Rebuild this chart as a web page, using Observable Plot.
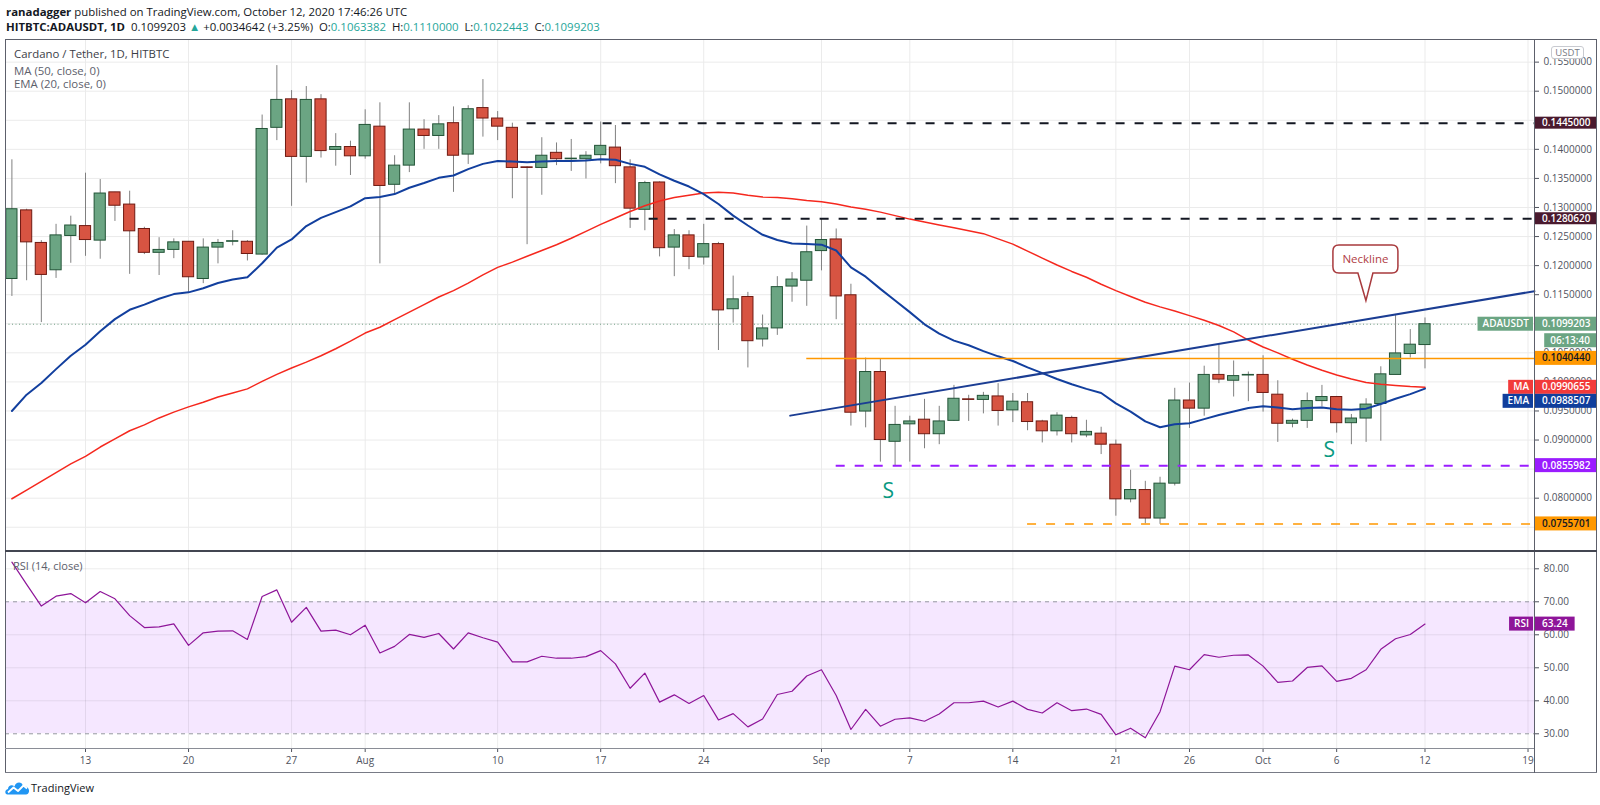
<!DOCTYPE html>
<html>
<head>
<meta charset="utf-8">
<script src="https://cdn.jsdelivr.net/npm/d3@7"></script>
<script src="https://cdn.jsdelivr.net/npm/@observablehq/plot@0.6"></script>
<style>
  html,body{margin:0;padding:0;background:#fff;}
  #wrap{position:relative;width:1600px;height:805px;overflow:hidden;font-family:"Open Sans",sans-serif;color:#131722;}
  .a{position:absolute;}
  .ln{position:absolute;background:#5d606b;}
  .hdr{position:absolute;left:6px;font-size:11.4px;white-space:nowrap;line-height:15px;color:#131722;}
  .tl{color:#26a69a;}
  .sp{margin-left:3px;}
  .lg{position:absolute;left:14px;font-size:11.4px;line-height:14px;white-space:nowrap;color:#5d606b;}
</style>
</head>
<body>
<div id="wrap">
  <div class="hdr" style="top:4px"><b>ranadagger</b> published on TradingView.com, October 12, 2020 17:46:26 UTC</div>
  <div class="hdr" style="top:18.5px"><b>HITBTC:ADAUSDT, 1D</b>&nbsp; 0.1099203 <span class="tl">▲</span> +0.0034642 (+3.25%)<span class="sp"></span> O:<span class="tl">0.1063382</span><span class="sp"></span> H:<span class="tl">0.1110000</span><span class="sp"></span> L:<span class="tl">0.1022443</span><span class="sp"></span> C:<span class="tl">0.1099203</span></div>
  <div id="main" class="a" style="left:0;top:39px;width:1600px;height:512px"></div>
  <div id="rsi" class="a" style="left:0;top:551px;width:1600px;height:222px"></div>
  <div class="lg" style="top:47px;color:#3b3e47">Cardano / Tether, 1D, HITBTC</div>
  <div class="lg" style="top:64px">MA (50, close, 0)</div>
  <div class="lg" style="top:77px">EMA (20, close, 0)</div>
  <div class="lg" style="top:559px;left:13px;font-size:11px">RSI (14, close)</div>
  <div class="ln" style="left:5px;top:39px;width:1592px;height:1px"></div>
  <div class="ln" style="left:5px;top:39px;width:1px;height:734px"></div>
  <div class="ln" style="left:1596px;top:39px;width:1px;height:734px"></div>
  <div class="ln" style="left:5px;top:772px;width:1592px;height:1px;background:#787b86"></div>
  <div class="ln" style="left:1534px;top:39px;width:1px;height:734px"></div>
  <div class="ln" style="left:5px;top:550px;width:1592px;height:2px;background:#434651"></div>
  <div class="ln" style="left:5px;top:748px;width:1529px;height:1px;background:#8a8d96"></div>
  <svg class="a" style="left:5px;top:780px" width="25" height="15" viewBox="0 0 25 15">
    <path d="M2.5 14.5 C-0.5 14.5 -0.5 9.5 3 9 C3 5.5 7 4 9.5 6.5 C10.5 1.5 17 1 18 6 C21.5 5.5 24.5 8.5 24 11.5 C23.7 13.5 22.5 14.5 21 14.5 Z" fill="#2196f3"/>
    <polyline points="3,12.5 8.5,7.5 13,11 18.5,5.5 22,8.5" stroke="#fff" stroke-width="1.8" fill="none" stroke-linejoin="round"/>
  </svg>
  <div class="a" style="left:31px;top:780px;font-size:11px;line-height:16px;color:#131722">TradingView</div>
</div>
<script>
// ---------------- data ----------------
const dates = [
"2020-07-08","2020-07-09","2020-07-10","2020-07-11","2020-07-12","2020-07-13","2020-07-14","2020-07-15","2020-07-16","2020-07-17","2020-07-18","2020-07-19","2020-07-20","2020-07-21","2020-07-22","2020-07-23","2020-07-24","2020-07-25","2020-07-26","2020-07-27","2020-07-28","2020-07-29","2020-07-30","2020-07-31",
"2020-08-01","2020-08-02","2020-08-03","2020-08-04","2020-08-05","2020-08-06","2020-08-07","2020-08-08","2020-08-09","2020-08-10","2020-08-11","2020-08-12","2020-08-13","2020-08-14","2020-08-15","2020-08-16","2020-08-17","2020-08-18","2020-08-19","2020-08-20","2020-08-21","2020-08-22","2020-08-23","2020-08-24","2020-08-25","2020-08-26","2020-08-27","2020-08-28","2020-08-29","2020-08-30","2020-08-31",
"2020-09-01","2020-09-02","2020-09-03","2020-09-04","2020-09-05","2020-09-06","2020-09-07","2020-09-08","2020-09-09","2020-09-10","2020-09-11","2020-09-12","2020-09-13","2020-09-14","2020-09-15","2020-09-16","2020-09-17","2020-09-18","2020-09-19","2020-09-20","2020-09-21","2020-09-22","2020-09-23","2020-09-24","2020-09-25","2020-09-26","2020-09-27","2020-09-28","2020-09-29","2020-09-30",
"2020-10-01","2020-10-02","2020-10-03","2020-10-04","2020-10-05","2020-10-06","2020-10-07","2020-10-08","2020-10-09","2020-10-10","2020-10-11","2020-10-12"];
const open = [
0.1177,0.1295,0.1239,0.1192,0.1251,0.1268,0.1243,0.1326,0.1305,0.1263,0.1222,0.1227,0.1241,0.1177,0.1231,0.1241,0.1241,0.1219,0.1437,0.1486,0.1387,0.1486,0.1399,0.1404,
0.1388,0.1439,0.1339,0.1372,0.1434,0.1423,0.1445,0.1391,0.1471,0.1453,0.1437,0.1369,0.1368,0.1394,0.1383,0.1383,0.1390,0.1403,0.1369,0.1296,0.1343,0.1231,0.1252,0.1214,0.1237,0.1125,0.1146,0.1073,0.1092,0.1164,0.1174,
0.1225,0.1245,0.1149,0.0949,0.1017,0.0897,0.0927,0.0935,0.0910,0.0933,0.0970,0.0969,0.0975,0.0951,0.0965,0.0932,0.0915,0.0938,0.0908,0.0911,0.0892,0.0798,0.0814,0.0765,0.0825,0.0968,0.0954,0.1012,0.1002,0.1011,
0.1012,0.0978,0.0928,0.0933,0.0967,0.0974,0.0929,0.0937,0.0962,0.1012,0.1048,0.1063382];
const high = [
0.1382,0.1297,0.1243,0.1271,0.1285,0.1359,0.1348,0.1326,0.1328,0.1266,0.1248,0.1246,0.1241,0.1246,0.1245,0.1260,0.1243,0.1459,0.1544,0.1501,0.1508,0.1494,0.1427,0.1414,
0.1468,0.1480,0.1389,0.1480,0.1451,0.1458,0.1473,0.1475,0.1520,0.1465,0.1445,0.1370,0.1420,0.1411,0.1417,0.1396,0.1447,0.1441,0.1382,0.1345,0.1344,0.1262,0.1260,0.1271,0.1240,0.1182,0.1154,0.1115,0.1181,0.1188,0.1268,
0.1281,0.1263,0.1168,0.1041,0.1040,0.0958,0.0941,0.0970,0.0958,0.0994,0.0977,0.0982,0.0997,0.0980,0.0980,0.0934,0.0947,0.0941,0.0934,0.0922,0.0900,0.0848,0.0829,0.0836,0.0989,0.0998,0.1027,0.1064,0.1036,0.1017,
0.1045,0.1002,0.0936,0.0981,0.0994,0.0975,0.0944,0.0971,0.1026,0.1114,0.1090,0.1110000];
const low = [
0.1147,0.1174,0.1102,0.1178,0.1204,0.1216,0.1211,0.1276,0.1185,0.1219,0.1183,0.1212,0.1153,0.1169,0.1203,0.1234,0.1208,0.1218,0.1415,0.1302,0.1342,0.1385,0.1371,0.1355,
0.1383,0.1203,0.1324,0.1360,0.1400,0.1400,0.1326,0.1374,0.1421,0.1415,0.1315,0.1236,0.1321,0.1372,0.1362,0.1349,0.1375,0.1341,0.1264,0.1260,0.1215,0.1181,0.1193,0.1201,0.1054,0.1101,0.1024,0.1060,0.1080,0.1137,0.1130,
0.1191,0.1107,0.0924,0.0921,0.0862,0.0856,0.0862,0.0885,0.0892,0.0932,0.0932,0.0945,0.0924,0.0930,0.0916,0.0895,0.0907,0.0895,0.0904,0.0875,0.0769,0.0792,0.0756,0.0755,0.0821,0.0920,0.0941,0.0997,0.0974,0.0966,
0.0948,0.0896,0.0921,0.0920,0.0957,0.0912,0.0892,0.0896,0.0898,0.1012,0.1041,0.1022443];
const close = [
0.1297,0.1240,0.1184,0.1252,0.1269,0.1244,0.1324,0.1303,0.1259,0.1222,0.1227,0.1240,0.1180,0.1231,0.1239,0.1242,0.1220,0.1435,0.1485,0.1387,0.1485,0.1397,0.1404,0.1388,
0.1442,0.1337,0.1372,0.1434,0.1423,0.1443,0.1389,0.1469,0.1453,0.1439,0.1368,0.1368,0.1389,0.1383,0.1384,0.1389,0.1406,0.1371,0.1298,0.1342,0.1230,0.1252,0.1215,0.1237,0.1123,0.1142,0.1070,0.1092,0.1163,0.1176,0.1223,
0.1244,0.1147,0.0947,0.1017,0.0900,0.0926,0.0932,0.0910,0.0932,0.0971,0.0969,0.0976,0.0950,0.0966,0.0931,0.0915,0.0942,0.0910,0.0914,0.0892,0.0798,0.0814,0.0765,0.0825,0.0968,0.0954,0.1012,0.1004,0.1010,0.1012,
0.0981,0.0928,0.0933,0.0967,0.0974,0.0929,0.0937,0.0961,0.1013,0.1049,0.1064,0.1099203];
const ma50 = [
0.0799,0.0814,0.0829,0.0844,0.0859,0.0872,0.0888,0.0902,0.0916,0.0926,0.0938,0.0948,0.0957,0.0965,0.0974,0.0981,0.0988,0.1001,0.1013,0.1024,0.1034,0.1045,0.1057,0.1070,
0.1084,0.1094,0.1107,0.1120,0.1133,0.1146,0.1157,0.1170,0.1184,0.1197,0.1206,0.1216,0.1226,0.1236,0.1247,0.1259,0.1271,0.1282,0.1293,0.1303,0.1311,0.1317,0.1321,0.1325,0.1326,0.1325,0.1321,0.1318,0.1317,0.1315,0.1312,
0.1310,0.1306,0.1301,0.1297,0.1292,0.1286,0.1280,0.1275,0.1270,0.1265,0.1260,0.1255,0.1246,0.1237,0.1225,0.1213,0.1201,0.1190,0.1180,0.1168,0.1157,0.1147,0.1137,0.1129,0.1122,0.1114,0.1106,0.1097,0.1086,0.1072,
0.1060,0.1050,0.1039,0.1029,0.1020,0.1012,0.1005,0.0999,0.0996,0.0994,0.0992,0.0990655];
const ema20 = [
0.0950,0.0978,0.0998,0.1022,0.1045,0.1064,0.1087,0.1108,0.1124,0.1133,0.1143,0.1151,0.1154,0.1161,0.1170,0.1176,0.1180,0.1204,0.1231,0.1245,0.1268,0.1282,0.1292,0.1302,
0.1316,0.1318,0.1323,0.1334,0.1342,0.1351,0.1355,0.1366,0.1375,0.1380,0.1379,0.1378,0.1379,0.1380,0.1380,0.1381,0.1383,0.1382,0.1375,0.1370,0.1357,0.1346,0.1336,0.1323,0.1306,0.1286,0.1269,0.1253,0.1244,0.1238,0.1237,
0.1236,0.1226,0.1197,0.1181,0.1160,0.1140,0.1120,0.1099,0.1083,0.1071,0.1063,0.1053,0.1044,0.1036,0.1025,0.1015,0.1005,0.0996,0.0988,0.0981,0.0963,0.0949,0.0932,0.0922,0.0927,0.0929,0.0936,0.0943,0.0949,0.0955,
0.0958,0.0956,0.0953,0.0955,0.0956,0.0953,0.0952,0.0954,0.0962,0.0971,0.0979,0.0988507];
const rsi14 = [
82.0,75.3,68.7,71.7,72.5,69.7,73.1,70.9,65.8,62.2,62.4,63.3,56.8,60.6,61.1,61.2,58.6,71.6,73.6,63.8,68.3,61.1,61.4,60.0,
62.9,54.5,56.5,60.1,59.2,60.4,55.7,60.6,59.1,57.8,51.8,51.8,53.5,52.9,52.9,53.4,55.2,51.2,43.8,48.4,39.6,41.8,39.2,41.6,34.2,36.1,32.1,34.5,41.9,42.9,47.5,
49.4,41.6,31.3,37.4,32.3,34.4,34.8,33.8,36.0,39.4,39.4,39.9,38.1,39.9,37.4,36.3,39.4,37.0,37.5,35.9,29.7,31.7,28.8,36.7,50.5,49.4,54.0,53.2,53.8,53.9,
50.5,45.6,46.0,50.1,50.6,45.9,46.8,49.4,55.6,58.8,60.1,63.24];

const tickDates = ["2020-07-13","2020-07-20","2020-07-27","2020-08-01","2020-08-10","2020-08-17","2020-08-24","2020-09-01","2020-09-07","2020-09-14","2020-09-21","2020-09-26","2020-10-01","2020-10-06","2020-10-12","2020-10-19"];
const tickLabels = ["13","20","27","Aug","10","17","24","Sep","7","14","21","26","Oct","6","12","19"];
const priceGrid = [0.075,0.080,0.085,0.090,0.095,0.100,0.105,0.110,0.115,0.120,0.125,0.130,0.135,0.140,0.145,0.150,0.155];
const priceLabels = [0.080,0.090,0.095,0.100,0.105,0.115,0.120,0.125,0.130,0.135,0.140,0.150,0.155];
const rsiTicks = [30,40,50,60,70,80];
const rsiBand = [30,70];

const levelValues = [0.1445000, 0.1280620, 0.1040440, 0.0855982, 0.0755701];
const levelStarts = ["2020-08-12","2020-08-19","2020-08-31","2020-09-02","2020-09-15"];
const necklineDates = ["2020-08-29T21:00:00Z","2020-10-19T10:30:00Z"];
const necklinePrices = [0.0942, 0.1156];
const sDates = ["2020-09-05T13:00:00Z","2020-10-05T12:00:00Z"];
const sPrices = [0.0812, 0.0882];
const calloutDate = "2020-10-08T00:30:00Z";
const calloutPrice = 0.1139;
const calloutText = "Neckline";
const countdown = "06:13:40";
const symbolName = "ADAUSDT";

// ---------------- build ----------------
const DAY = 864e5;
const t = s => new Date(s.length === 10 ? s + "T00:00:00Z" : s);
const candles = dates.map((d, i) => ({date: t(d), open: open[i], high: high[i], low: low[i], close: close[i], ma: ma50[i], ema: ema20[i], rsi: rsi14[i]}));
const last = candles[candles.length - 1];
const t0 = +candles[0].date;
const xDomain = [new Date(t0 - 0.435 * DAY), new Date(t0 + 103.44 * DAY)];
const xEnd = () => xDomain[1];
const W = 1600, ML = 5, MR = 66, AX = W - MR;
const GREEN = "#6ba583", GREEN_D = "#225437", RED = "#d75442", RED_D = "#6f1a12";
const isUp = d => d.close >= d.open;
const tickD = tickDates.map(t);
const fmtDate = d => { const i = tickD.findIndex(v => +v === +d); return i >= 0 ? tickLabels[i] : ""; };
const levels = levelValues.map((v, i) => ({value: v, start: t(levelStarts[i])}));
const neck = necklineDates.map((d, i) => ({date: t(d), price: necklinePrices[i]}));
const sLabels = sDates.map((d, i) => ({date: t(d), price: sPrices[i], label: "S"}));
const bx1 = d => new Date(+d.date - 0.38 * DAY), bx2 = d => new Date(+d.date + 0.38 * DAY);
const baseStyle = {fontFamily: "'Open Sans', sans-serif", fontSize: "10px", color: "#50535e", background: "transparent", overflow: "visible", maxWidth: "none"};
const dash = "9,10";

const main = Plot.plot({
  width: W, height: 512, marginLeft: ML, marginRight: MR, marginTop: 0, marginBottom: 0,
  style: baseStyle,
  x: {type: "utc", domain: xDomain, axis: null},
  y: {domain: [0.070829, 0.158892], axis: "right", ticks: priceLabels, tickFormat: d => d.toFixed(7), tickSize: 4, tickPadding: 5, label: null},
  marks: [
    Plot.ruleX(tickD, {stroke: "#ebebeb"}),
    Plot.ruleY(priceGrid, {stroke: "#ebebeb"}),
    Plot.ruleY([last.close], {stroke: "#6f9e84", strokeDasharray: "1,2.5"}),
    Plot.ruleX(candles, {x: "date", y1: "low", y2: "high", stroke: "#808080"}),
    Plot.rect(candles.filter(isUp), {x1: bx1, x2: bx2, y1: "open", y2: "close", fill: GREEN, stroke: GREEN_D, strokeWidth: 1}),
    Plot.rect(candles.filter(d => !isUp(d)), {x1: bx1, x2: bx2, y1: "open", y2: "close", fill: RED, stroke: RED_D, strokeWidth: 1}),
    Plot.line(candles, {x: "date", y: "ma", stroke: "#f5281e", strokeWidth: 1.5}),
    Plot.line(candles, {x: "date", y: "ema", stroke: "#123f9e", strokeWidth: 2}),
    Plot.ruleY(levels.slice(0, 2), {y: "value", x1: "start", x2: xEnd, stroke: "#131722", strokeWidth: 2, strokeDasharray: dash}),
    Plot.ruleY([levels[2]], {y: "value", x1: "start", x2: xEnd, stroke: "#ff9800", strokeWidth: 1.5}),
    Plot.ruleY([levels[3]], {y: "value", x1: "start", x2: xEnd, stroke: "#9a1cff", strokeWidth: 2, strokeDasharray: dash}),
    Plot.ruleY([levels[4]], {y: "value", x1: "start", x2: xEnd, stroke: "#ff9800", strokeWidth: 1.5, strokeDasharray: dash}),
    Plot.line(neck, {x: "date", y: "price", stroke: "#1b3d93", strokeWidth: 2}),
    Plot.text(sLabels, {x: "date", y: "price", text: "label", fill: "#089981", fontSize: 21, fontWeight: 500})
  ]
});
document.getElementById("main").appendChild(main);

const rsiPlot = Plot.plot({
  width: W, height: 222, marginLeft: ML, marginRight: MR, marginTop: 0, marginBottom: 24,
  style: baseStyle,
  x: {type: "utc", domain: xDomain, ticks: tickD, tickFormat: fmtDate, tickSize: 3, tickPadding: 4, label: null},
  y: {domain: [25.24, 85.24], axis: "right", ticks: rsiTicks, tickFormat: d => d.toFixed(2), tickSize: 4, tickPadding: 5, label: null},
  marks: [
    Plot.rect([rsiBand], {x1: () => xDomain[0], x2: xEnd, y1: d => d[0], y2: d => d[1], fill: "#9915ff", fillOpacity: 0.1}),
    Plot.ruleX(tickD, {stroke: "#000", strokeOpacity: 0.075}),
    Plot.ruleY([40, 50, 60, 80], {stroke: "#000", strokeOpacity: 0.075}),
    Plot.ruleY(rsiBand, {stroke: "#9598a1", strokeDasharray: "4,4"}),
    Plot.line(candles, {x: "date", y: "rsi", stroke: "#8e1599", strokeWidth: 1.2})
  ]
});
document.getElementById("rsi").appendChild(rsiPlot);

// ---------------- annotations through the scales ----------------
const sx = main.scale("x"), sy = main.scale("y");
const gm = d3.select(main).append("g").attr("font-family", "'Open Sans', sans-serif").attr("text-anchor", "start");

// callout
{
  const tx = sx.apply(t(calloutDate)), ty = sy.apply(calloutPrice);
  const x0 = tx - 33, x1 = tx + 32, y1 = ty - 27.5, y0 = ty - 55.5, r = 6;
  const p = `M${x0 + r},${y0} H${x1 - r} Q${x1},${y0} ${x1},${y0 + r} V${y1 - r} Q${x1},${y1} ${x1 - r},${y1} H${tx + 7} L${tx},${ty} L${tx - 8},${y1} H${x0 + r} Q${x0},${y1} ${x0},${y1 - r} V${y0 + r} Q${x0},${y0} ${x0 + r},${y0} Z`;
  gm.append("path").attr("d", p).attr("fill", "#fff").attr("stroke", "#a83a3d").attr("stroke-width", 1.5);
  gm.append("text").attr("x", tx - 0.5).attr("y", (y0 + y1) / 2).attr("dy", "0.35em").attr("text-anchor", "middle")
    .attr("font-size", 11.5).attr("fill", "#b04045").text(calloutText);
}

function drawTags(g, items, h) {
  items.forEach(d => d.py = d.scale.apply(d.value));
  const sorted = items.slice().sort((a, b) => a.py - b.py);
  for (let i = 1; i < sorted.length; i++) if (sorted[i].py < sorted[i - 1].py + h) sorted[i].py = sorted[i - 1].py + h;
  for (const d of items) {
    const hh = d.h || h;
    const rect = g.append("rect").attr("x", AX + 1).attr("y", d.py - hh / 2).attr("height", hh).attr("fill", d.bg);
    const txt = g.append("text").attr("x", AX + 8).attr("y", d.py).attr("dy", "0.36em").attr("text-anchor", "start").attr("font-size", 10).attr("font-weight", 600).attr("fill", d.fg).text(d.text);
    const w = d.full ? (W - 3 - AX - 1) : txt.node().getComputedTextLength() + 14;
    rect.attr("width", w);
    if (d.name) {
      const nt = g.append("text").attr("x", AX - 5).attr("y", d.py).attr("dy", "0.36em").attr("text-anchor", "end").attr("font-size", 10).attr("font-weight", 600).attr("fill", d.fg).text(d.name);
      const nw = nt.node().getComputedTextLength() + 10;
      g.insert("rect", () => nt.node()).attr("x", AX - nw).attr("y", d.py - hh / 2).attr("width", nw - 1).attr("height", hh).attr("fill", d.bg);
    }
    if (d.sub) {
      const sy2 = d.py + hh / 2 + 2.5;
      const st = g.append("text").attr("x", W - 10).attr("y", sy2 + 7).attr("dy", "0.36em").attr("text-anchor", "end").attr("font-size", 10).attr("font-weight", 600).attr("fill", d.fg).text(d.sub);
      const sw = st.node().getComputedTextLength() + 12;
      g.insert("rect", () => st.node()).attr("x", W - 4 - sw).attr("y", sy2).attr("width", sw).attr("height", 14).attr("fill", d.bg);
    }
  }
}
const f7 = v => v.toFixed(7);
drawTags(gm, [
  {value: levelValues[0], text: f7(levelValues[0]), bg: "#4a1a2e", fg: "#fff", full: true, h: 12, scale: sy},
  {value: levelValues[1], text: f7(levelValues[1]), bg: "#4a1a2e", fg: "#fff", full: true, h: 12, scale: sy},
  {value: last.close, text: f7(last.close), bg: GREEN, fg: "#fff", full: true, name: symbolName, sub: countdown, scale: sy},
  {value: levelValues[2], text: f7(levelValues[2]), bg: "#ff9800", fg: "#131722", full: true, scale: sy},
  {value: last.ma, text: f7(last.ma), bg: "#f23a3a", fg: "#fff", full: true, name: "MA", scale: sy},
  {value: last.ema, text: f7(last.ema), bg: "#103e9c", fg: "#fff", full: true, name: "EMA", scale: sy},
  {value: levelValues[3], text: f7(levelValues[3]), bg: "#9a1cff", fg: "#fff", full: true, scale: sy},
  {value: levelValues[4], text: f7(levelValues[4]), bg: "#ff9800", fg: "#131722", full: true, scale: sy}
], 14);

// USDT badge
gm.append("rect").attr("x", 1551.5).attr("y", 7.5).attr("width", 32).attr("height", 12).attr("rx", 2.5).attr("fill", "#fff").attr("stroke", "#c8cad0");
gm.append("text").attr("x", 1567.5).attr("y", 13.5).attr("dy", "0.35em").attr("text-anchor", "middle").attr("font-size", 9.5).attr("fill", "#787b86").text("USDT");

const gr = d3.select(rsiPlot).append("g").attr("font-family", "'Open Sans', sans-serif").attr("text-anchor", "start");
drawTags(gr, [{value: last.rsi, text: last.rsi.toFixed(2), bg: "#8e1599", fg: "#fff", full: false, name: "RSI", scale: rsiPlot.scale("y")}], 14);
</script>
</body>
</html>
